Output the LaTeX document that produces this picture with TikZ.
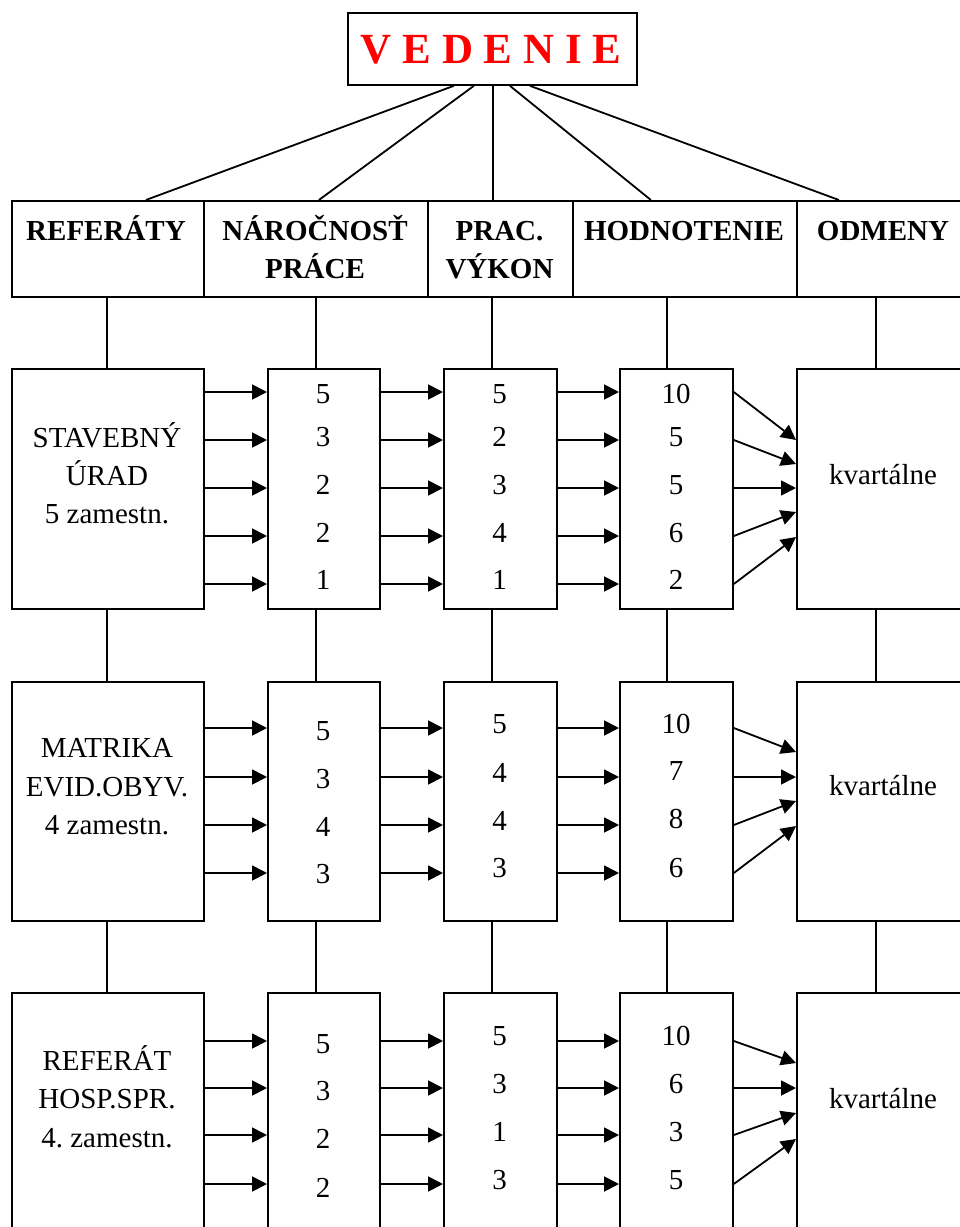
\documentclass[tikz,border=0pt]{standalone}
\usepackage{fontspec}
\setmainfont{Liberation Serif}
\usetikzlibrary{arrows.meta}
\frenchspacing
\begin{document}
\begin{tikzpicture}[x=1pt,y=-1pt,
  box/.style={draw, line width=1.8pt, inner sep=0pt, anchor=north west},
  lnk/.style={line width=1.8pt},
  arr/.style={line width=1.8pt, -{Triangle[length=15pt,width=15pt]}},
  txt/.style={font=\fontsize{29}{34}\selectfont, inner sep=0pt, anchor=base},
  hdr/.style={font=\fontsize{29}{34}\selectfont\bfseries, inner sep=0pt, anchor=base},
  ttl/.style={font=\fontsize{43}{50}\selectfont\bfseries, text=red, inner sep=0pt, anchor=base}
]
\useasboundingbox (0,0) rectangle (960,1227);
\fill[white] (0,0) rectangle (960,1227);
\clip (0,0) rectangle (960,1227);

% title
\node[box, minimum width=289pt, minimum height=72pt] (top) at (347,12) {};
\node[ttl] (ttltext) at (491,63) {V E D E N I E};

% header
\node[box, minimum width=192pt, minimum height=96pt] (h1) at (11,200) {};
\node[box, minimum width=224pt, minimum height=96pt] (h2) at (203,200) {};
\node[box, minimum width=145pt, minimum height=96pt] (h3) at (427,200) {};
\node[box, minimum width=224pt, minimum height=96pt] (h4) at (572,200) {};
\node[box, minimum width=174pt, minimum height=96pt] (h5) at (796,200) {};
\node[hdr] (t1) at (106,240) {REFERÁTY};
\node[hdr] (t2a) at (315,240) {NÁROČNOSŤ};
\node[hdr] (t2b) at (315,278) {PRÁCE};
\node[hdr] (t3a) at (499.5,240) {PRAC.};
\node[hdr] (t3b) at (499.5,278) {VÝKON};
\node[hdr] (t4) at (684,240) {HODNOTENIE};
\node[hdr] (t5) at (883,240) {ODMENY};

% lines from title to header
\draw[lnk] ([xshift=-38.5pt]top.south) -- ([xshift=38pt]h1.north);
\draw[lnk] ([xshift=-18.5pt]top.south) -- ([xshift=3pt]h2.north);
\draw[lnk] ([xshift=0.5pt]top.south) -- ([xshift=-7.5pt]h3.north);
\draw[lnk] ([xshift=17.5pt]top.south) -- ([xshift=-34pt]h4.north);
\draw[lnk] ([xshift=37.5pt]top.south) -- ([xshift=-45pt]h5.north);

% column connector x positions
\coordinate (cx1) at (107,0);
\coordinate (cx2) at (316,0);
\coordinate (cx3) at (492,0);
\coordinate (cx4) at (667,0);
\coordinate (cx5) at (876,0);

% rows of boxes
\foreach \rw/\tp/\ht in {1/368/240, 2/681/239, 3/992/260} {
  \node[box, minimum width=192pt, minimum height=\ht pt] (r\rw c1) at (11,\tp) {};
  \node[box, minimum width=112pt, minimum height=\ht pt] (r\rw c2) at (267,\tp) {};
  \node[box, minimum width=113pt, minimum height=\ht pt] (r\rw c3) at (443,\tp) {};
  \node[box, minimum width=113pt, minimum height=\ht pt] (r\rw c4) at (619,\tp) {};
  \node[box, minimum width=174pt, minimum height=\ht pt] (r\rw c5) at (796,\tp) {};
}

% vertical connectors
\foreach \c in {1,...,5} {
  \draw[lnk] (h\c.south -| cx\c) -- (r1c\c.north -| cx\c);
  \draw[lnk] (r1c\c.south -| cx\c) -- (r2c\c.north -| cx\c);
  \draw[lnk] (r2c\c.south -| cx\c) -- (r3c\c.north -| cx\c);
}

% arrows row 1..3
\foreach \rw/\ay/\ky in {1/392/440, 1/440/464, 1/488/488, 1/536/512, 1/584/537,
                         2/728/752, 2/777/777, 2/825/801, 2/873/826,
                         3/1041/1063, 3/1088/1088, 3/1135/1113, 3/1184/1139} {
  \coordinate (ay) at (0,\ay);
  \coordinate (ky) at (0,\ky);
  \draw[arr] (r\rw c1.east |- ay) -- (r\rw c2.west |- ay);
  \draw[arr] (r\rw c2.east |- ay) -- (r\rw c3.west |- ay);
  \draw[arr] (r\rw c3.east |- ay) -- (r\rw c4.west |- ay);
  \draw[arr] (r\rw c4.east |- ay) -- (r\rw c5.west |- ky);
}

% left texts
\node[txt] (l11) at (107,447) {STAVEBNÝ};
\node[txt] (l12) at (107,485) {ÚRAD};
\node[txt] (l13) at (107,523) {5 zamestn.};
\node[txt] (l21) at (107,757) {MATRIKA};
\node[txt] (l22) at (107,796) {EVID.OBYV.};
\node[txt] (l23) at (107,834) {4 zamestn.};
\node[txt] (l31) at (107,1070) {REFERÁT};
\node[txt] (l32) at (107,1108) {HOSP.SPR.};
\node[txt] (l33) at (107,1147) {4. zamestn.};

% kvartalne
\node[txt] (k1) at (883,484) {kvartálne};
\node[txt] (k2) at (883,795) {kvartálne};
\node[txt] (k3) at (883,1108) {kvartálne};

% numbers row 1
\foreach \y/\a/\b/\cc [count=\i] in {403/5/5/10, 446/3/2/5, 494/2/3/5, 542/2/4/6, 589/1/1/2} {
  \node[txt] (n1a\i) at (323,\y) {\a};
  \node[txt] (n1b\i) at (499.5,\y) {\b};
  \node[txt] (n1c\i) at (676,\y) {\cc};
}
% numbers row 2
\foreach \ya/\yb/\yc/\a/\b/\cc [count=\i] in {740/733/733/5/5/10, 788/782/780/3/4/7, 836/830/828/4/4/8, 883/877/877/3/3/6} {
  \node[txt] (n2a\i) at (323,\ya) {\a};
  \node[txt] (n2b\i) at (499.5,\yb) {\b};
  \node[txt] (n2c\i) at (676,\yc) {\cc};
}
% numbers row 3
\foreach \ya/\yb/\a/\b/\cc [count=\i] in {1053/1045/5/5/10, 1100/1093/3/3/6, 1148/1141/2/1/3, 1197/1189/2/3/5} {
  \node[txt] (n3a\i) at (323,\ya) {\a};
  \node[txt] (n3b\i) at (499.5,\yb) {\b};
  \node[txt] (n3c\i) at (676,\yb) {\cc};
}
\end{tikzpicture}
\end{document}
